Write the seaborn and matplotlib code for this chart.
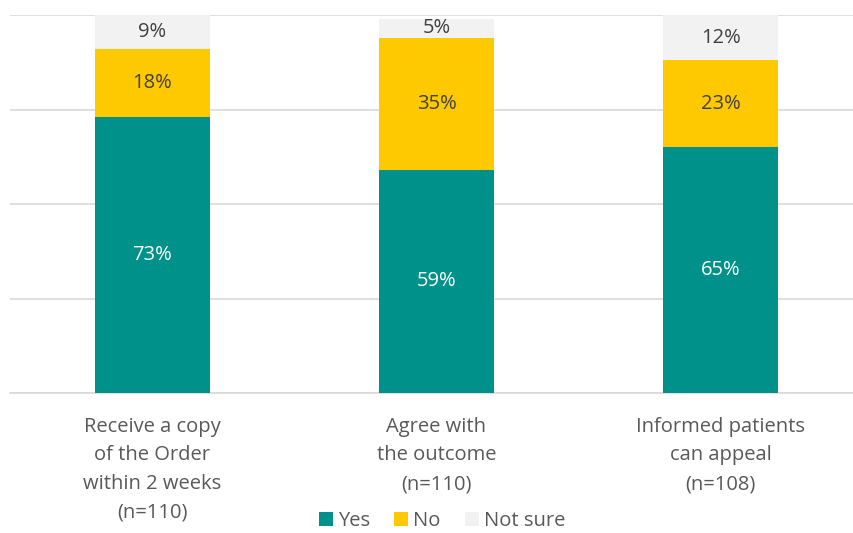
import matplotlib
matplotlib.use("Agg")
import matplotlib.pyplot as plt
import seaborn as sns
import pandas as pd
import numpy as np
from matplotlib.patches import Patch

categories = ["Receive a copy\nof the Order\nwithin 2 weeks\n(n=110)",
              "Agree with\nthe outcome\n(n=110)",
              "Informed patients\ncan appeal\n(n=108)"]
yes = [73, 59, 65]
no = [18, 35, 23]
not_sure = [9, 5, 12]

series_names = ["Yes", "No", "Not sure"]
colors = {"Yes": "#00918A", "No": "#FFC900", "Not sure": "#F2F2F2"}
text_colors = {"Yes": "white", "No": "#404040", "Not sure": "#404040"}

sns.set_theme(style="white")
plt.rcParams["font.family"] = ["Open Sans", "DejaVu Sans"]

fig = plt.figure(figsize=(8.54, 5.33), dpi=100)
ax = fig.add_axes([10 / 854, 140 / 533, 853 / 854, 378 / 533])

yes_a = np.array(yes)
no_a = np.array(no)
ns_a = np.array(not_sure)
layers = [("Not sure", yes_a + no_a + ns_a), ("No", yes_a + no_a), ("Yes", yes_a)]

for name, tops in layers:
    df = pd.DataFrame({"cat": categories, "val": tops})
    sns.barplot(data=df, x="cat", y="val", color=colors[name], width=0.405,
                saturation=1, ax=ax, zorder=3, linewidth=0, errorbar=None)

# segment value labels
bottoms = [np.zeros(3), yes_a, yes_a + no_a]
for name, vals, bot in zip(series_names, [yes_a, no_a, ns_a], bottoms):
    for i, (v, b) in enumerate(zip(vals, bot)):
        ax.text(i, b + v / 2, f"{v}%", ha="center", va="center",
                fontsize=14.5, color=text_colors[name], zorder=5)

ax.set_ylim(0, 100)
ax.set_xlim(-0.5, 2.5)
ax.set_yticks([0, 25, 50, 75, 100])
ax.set_yticklabels([])
ax.yaxis.grid(True, color="#D9D9D9", linewidth=1.2, zorder=0)
ax.tick_params(axis="y", length=0)
ax.tick_params(axis="x", length=0, pad=17, labelsize=14.5, labelcolor="#595959")
ax.set_xlabel("")
ax.set_ylabel("")
for s in ["top", "right", "left"]:
    ax.spines[s].set_visible(False)
ax.spines["bottom"].set_color("#D9D9D9")
ax.spines["bottom"].set_linewidth(1.2)
for lbl in ax.get_xticklabels():
    lbl.set_linespacing(1.58)

handles = [Patch(facecolor=colors[n], edgecolor="none") for n in series_names]
fig.legend(handles, series_names, loc="center", bbox_to_anchor=(442 / 854, 1 - 521 / 533),
           ncol=3, frameon=False, fontsize=14.5, labelcolor="#595959",
           handlelength=0.7, handleheight=0.7, handletextpad=0.25, columnspacing=1.2,
           borderpad=0.1)

fig.savefig("out.png", dpi=100)
